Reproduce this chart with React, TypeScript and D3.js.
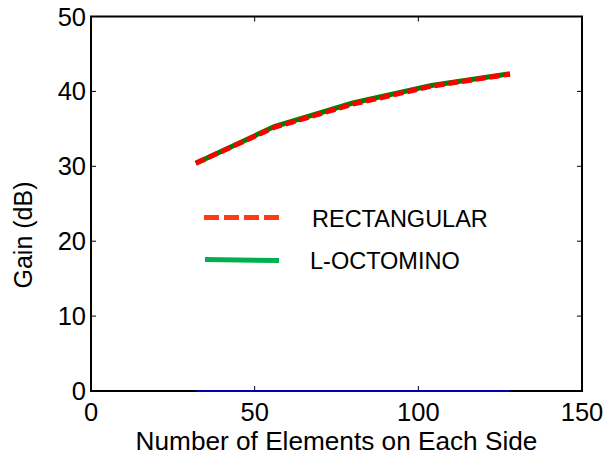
import React from "react";
import * as d3 from "d3";

const elements = [32, 56, 80, 104, 128];
const rectangularGain = [30.4, 35.2, 38.3, 40.7, 42.3];
const octominoGain = [30.4, 35.3, 38.45, 40.8, 42.35];
const baseline = [0, 0, 0, 0, 0];
const xTicks = [0, 50, 100, 150];
const yTicks = [0, 10, 20, 30, 40, 50];
const legendLabels = ["RECTANGULAR", "L-OCTOMINO"];

const W = 608, H = 462;
const L = 91, R = 582, T = 16.5, B = 391;
const FONT = "'Liberation Sans', Arial, sans-serif";

export default function App() {
  const x = d3.scaleLinear().domain([0, 150]).range([L, R]);
  const y = d3.scaleLinear().domain([0, 50]).range([B, T]);
  const line = d3.line<number>().x((_, i) => x(elements[i])).y((d) => y(d));

  return (
    <svg width={W} height={H} style={{ position: "absolute", left: 0, top: 0 }}>
      <rect x={0} y={0} width={W} height={H} fill="#fff" />
      {xTicks.map((t) => (
        <g key={"x" + t}>
          <line x1={x(t)} x2={x(t)} y1={B} y2={B - 5} stroke="#000" strokeWidth={1} />
          <line x1={x(t)} x2={x(t)} y1={T} y2={T + 5} stroke="#000" strokeWidth={1} />
          <text x={x(t)} y={B + 30} fontSize={25.5} fontFamily={FONT} textAnchor="middle">{t}</text>
        </g>
      ))}
      {yTicks.map((t) => (
        <g key={"y" + t}>
          <line x1={L} x2={L + 5} y1={y(t)} y2={y(t)} stroke="#000" strokeWidth={1} />
          <line x1={R} x2={R - 5} y1={y(t)} y2={y(t)} stroke="#000" strokeWidth={1} />
          <text x={L - 5} y={y(t) + 9} fontSize={25.5} fontFamily={FONT} textAnchor="end">{t}</text>
        </g>
      ))}
      <path d={line(octominoGain) ?? ""} fill="none" stroke="#008000" strokeWidth={5} />
      <path d={line(rectangularGain) ?? ""} fill="none" stroke="#ff0000" strokeWidth={5} strokeDasharray="10,4" />
      <rect x={L} y={T} width={R - L} height={B - T} fill="none" stroke="#000" strokeWidth={2} />
      <path d={line(baseline) ?? ""} fill="none" stroke="#0000b0" strokeWidth={2} />
      {/* legend */}
      <line x1={204} x2={281} y1={217.5} y2={217.5} stroke="#ff3b10" strokeWidth={5} strokeDasharray="15,5" />
      <text x={312} y={226.5} fontSize={23.5} fontFamily={FONT}>{legendLabels[0]}</text>
      <line x1={205} x2={279} y1={259.5} y2={260.5} stroke="#00b050" strokeWidth={5} />
      <text x={310} y={269} fontSize={23.5} fontFamily={FONT}>{legendLabels[1]}</text>
      {/* axis titles */}
      <text x={(L + R) / 2} y={450} fontSize={26.2} fontFamily={FONT} textAnchor="middle">Number of Elements on Each Side</text>
      <text transform={`translate(32, 235) rotate(-90)`} fontSize={25} fontFamily={FONT} textAnchor="middle">Gain (dB)</text>
    </svg>
  );
}
